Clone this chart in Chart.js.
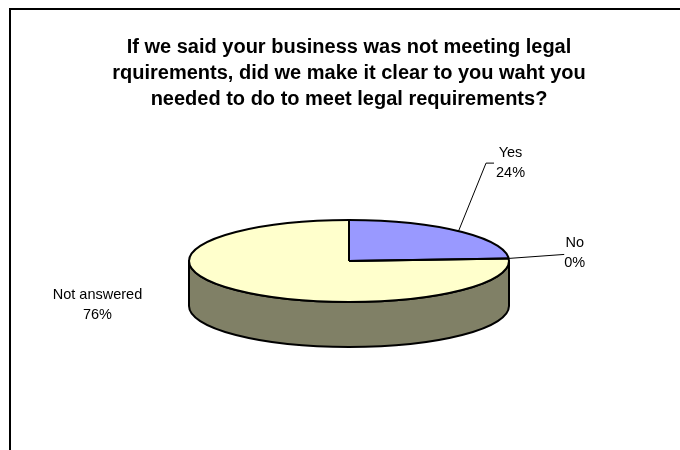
<!DOCTYPE html>
<html><head><meta charset="utf-8">
<script src="https://cdn.jsdelivr.net/npm/chart.js@4.4.0/dist/chart.umd.min.js"></script>
<style>html,body{margin:0;padding:0;background:#fff;}</style>
</head><body>
<canvas id="c" width="680" height="450"></canvas>
<script>
// ---- data ----
const categories = ['Yes', 'No', 'Not answered'];
const percentages = [24, 0, 76];
const titleLines = [
  'If we said your business was not meeting legal',
  'rquirements, did we make it clear to you waht you',
  'needed to do to meet legal requirements?'
];

// ---- style ----
const sliceColors = ['#9999FF', '#993366', '#FFFFCC'];
const sideColors = ['#4D4D80', '#4D1A33', '#808066'];
const TILT = 41 / 160;      // vertical squash of the pie top
const DEPTH = 45;           // thickness of the 3D wall
const labelOffsets = [[52, -68], [66, -5], [-142, 14]]; // label centre relative to slice anchor
const leaderStyles = ['elbow', 'straight', null];
const FONT = '"Liberation Sans", Arial, sans-serif';

const pie3d = {
  id: 'pie3d',
  beforeDraw(chart) {
    const ctx = chart.ctx;
    ctx.save();
    ctx.fillStyle = '#fff';
    ctx.fillRect(0, 0, chart.width, chart.height);
    ctx.fillStyle = '#000';
    ctx.fillRect(9, 8, chart.width - 9, 2);
    ctx.fillRect(9, 8, 2, chart.height - 8);
    ctx.restore();
  },
  beforeDatasetsDraw(chart) {
    const ctx = chart.ctx;
    const arcs = chart.getDatasetMeta(0).data;
    const {x, y, outerRadius: R} = arcs[0];
    const ry = R * TILT;
    ctx.save();
    ctx.lineWidth = 2;
    ctx.strokeStyle = '#000';
    ctx.lineJoin = 'round';
    arcs.forEach((arc, i) => {
      const s = arc.startAngle, e = arc.endAngle;
      if (e - s <= 0) return;
      [[0, Math.PI], [2 * Math.PI, 3 * Math.PI], [-2 * Math.PI, -Math.PI]].forEach(([lo, hi]) => {
        const a0 = Math.max(s, lo), a1 = Math.min(e, hi);
        if (a1 <= a0) return;
        ctx.beginPath();
        ctx.ellipse(x, y, R, ry, 0, a0, a1);
        ctx.lineTo(x + R * Math.cos(a1), y + ry * Math.sin(a1) + DEPTH);
        ctx.ellipse(x, y + DEPTH, R, ry, 0, a1, a0, true);
        ctx.closePath();
        ctx.fillStyle = sideColors[i];
        ctx.fill();
        ctx.stroke();
      });
    });
    ctx.restore();
    ctx.save();
    ctx.translate(x, y);
    ctx.scale(1, TILT);
    ctx.translate(-x, -y);
  },
  afterDatasetsDraw(chart) {
    const ctx = chart.ctx;
    ctx.restore();
    const arcs = chart.getDatasetMeta(0).data;
    const {x, y, outerRadius: R} = arcs[0];
    const ry = R * TILT;
    ctx.save();
    ctx.lineWidth = 2;
    ctx.strokeStyle = '#000';
    ctx.lineJoin = 'round';
    ctx.beginPath();
    ctx.ellipse(x, y, R, ry, 0, 0, Math.PI * 2);
    ctx.stroke();
    arcs.forEach(arc => {
      if (arc.endAngle - arc.startAngle <= 0) return;
      [arc.startAngle, arc.endAngle].forEach(a => {
        ctx.beginPath();
        ctx.moveTo(x, y);
        ctx.lineTo(x + R * Math.cos(a), y + ry * Math.sin(a));
        ctx.stroke();
      });
    });
    // labels
    ctx.font = '14.5px ' + FONT;
    ctx.fillStyle = '#000';
    ctx.textAlign = 'center';
    ctx.textBaseline = 'middle';
    ctx.lineWidth = 1;
    arcs.forEach((arc, i) => {
      const mid = (arc.startAngle + arc.endAngle) / 2;
      const ax = x + R * Math.cos(mid), ay = y + ry * Math.sin(mid);
      const lx = ax + labelOffsets[i][0], ly = ay + labelOffsets[i][1];
      const l1 = categories[i], l2 = percentages[i] + '%';
      ctx.fillText(l1, lx, ly - 10);
      ctx.fillText(l2, lx, ly + 10);
      const w = Math.max(ctx.measureText(l1).width, ctx.measureText(l2).width);
      const left = lx - w / 2;
      if (leaderStyles[i] === 'elbow') {
        ctx.beginPath();
        ctx.moveTo(ax, ay);
        ctx.lineTo(left - 10, ly);
        ctx.lineTo(left - 2, ly);
        ctx.stroke();
      } else if (leaderStyles[i] === 'straight') {
        ctx.beginPath();
        ctx.moveTo(ax, ay);
        ctx.lineTo(left, ly + 1);
        ctx.stroke();
      }
    });
    ctx.restore();
  }
};

new Chart(document.getElementById('c'), {
  type: 'pie',
  data: {
    labels: categories,
    datasets: [{
      data: percentages,
      backgroundColor: sliceColors,
      borderWidth: 0,
      clip: false
    }]
  },
  options: {
    responsive: false,
    animation: false,
    devicePixelRatio: 1,
    radius: 160,
    layout: { padding: { left: 18, right: 0, top: 24, bottom: 50 } },
    plugins: {
      legend: { display: false },
      tooltip: { enabled: false },
      title: {
        display: true,
        text: titleLines,
        color: '#000',
        font: { family: FONT, size: 20, weight: 'bold', lineHeight: 1.3 },
        padding: { top: 10, bottom: 10 }
      }
    }
  },
  plugins: [pie3d]
});
</script>
</body></html>
